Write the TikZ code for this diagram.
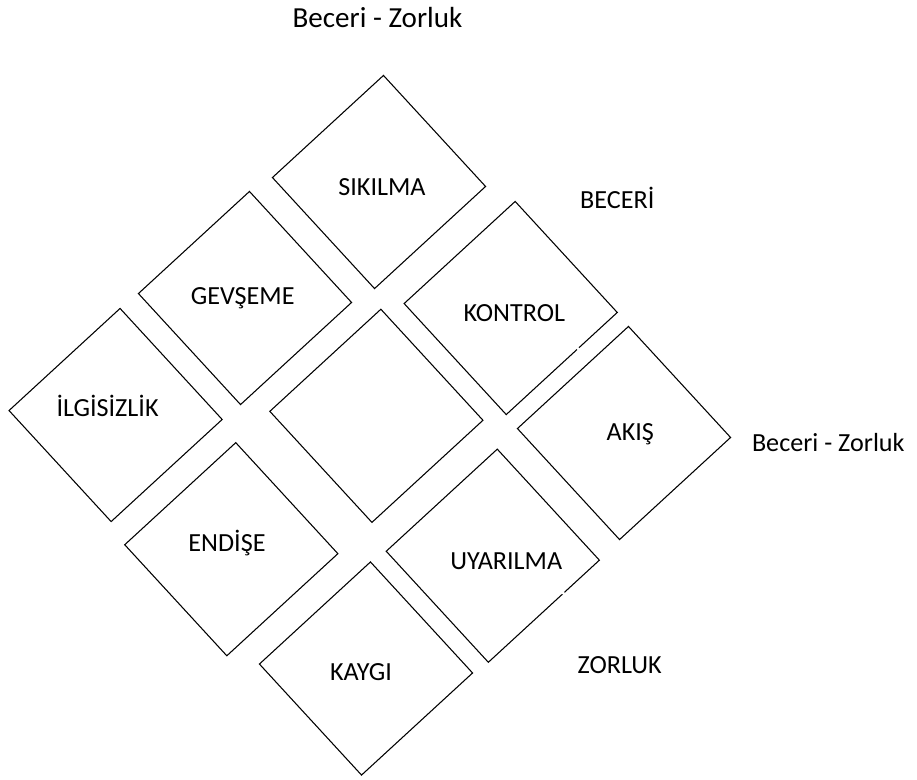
\documentclass[tikz,border=0pt]{standalone}
\usepackage{fontspec}
\setmainfont{Carlito}
\usetikzlibrary{shapes.geometric}
\usetikzlibrary{positioning}

\tikzset{
	zone/.style={draw, regular polygon, regular polygon sides=4,
		shape border rotate=42.6, minimum size=160pt, inner sep=0pt,
		line width=0.8pt},
	zonetext/.style={anchor=base, font=\fontsize{19.6}{23}\selectfont},
	axistext/.style={anchor=base, font=\fontsize{19.6}{23}\selectfont},
}

\begin{document}
\begin{tikzpicture}[x=0.75pt, y=-0.75pt]
		\useasboundingbox (0,0) rectangle (917,779);
		
		%Zones
		\node[zone] (sik) at (379,182){};
		\node[zone] (gev) at (245,298){};
		\node[zone] (ilg) at (115.6,415){};
		\node[zone] (kon) at (510.7,308){};
		\node[zone] (mid) at (376.4,415.8){};
		\node[zone] (aki) at (624,433){};
		\node[zone] (end) at (231.3,549.2){};
		\node[zone] (uya) at (492.8,555.7){};
		\node[zone] (kay) at (366,668.5){};
		
		%Small breaks in two borders
		\fill[white] (578,348.6) circle (1.3pt);
		\fill[white] (563.3,593.2) circle (1.3pt);
		
		%Zone names
		\node[zonetext] (sikT) at ([shift={(3,13.7)}]sik.center){SIKILMA};
		\node[zonetext] (gevT) at ([shift={(-2.3,6)}]gev.center){GEVŞEME};
		\node[zonetext] (ilgT) at ([shift={(-8,1)}]ilg.center){İLGİSİZLİK};
		\node[zonetext] (konT) at ([shift={(3.6,13.7)}]kon.center){KONTROL};
		\node[zonetext] (akiT) at ([shift={(6.3,7)}]aki.center){AKIŞ};
		\node[zonetext] (endT) at ([shift={(-4.3,2.5)}]end.center){ENDİŞE};
		\node[zonetext] (uyaT) at ([shift={(13.4,13.3)}]uya.center){UYARILMA};
		\node[zonetext] (kayT) at ([shift={(-5,11.5)}]kay.center){KAYGI};
		
		%Axis names
		\node[axistext, font=\fontsize{21.8}{26}\selectfont] (topT) at (377.5,27.7){Beceri - Zorluk};
		\node[axistext] (skillT) at (617.3,208.3){BECERİ};
		\node[axistext] (rightT) at (828.3,451){Beceri - Zorluk};
		\node[axistext] (challT) at (619.7,673.3){ZORLUK};
	\end{tikzpicture}
\end{document}
